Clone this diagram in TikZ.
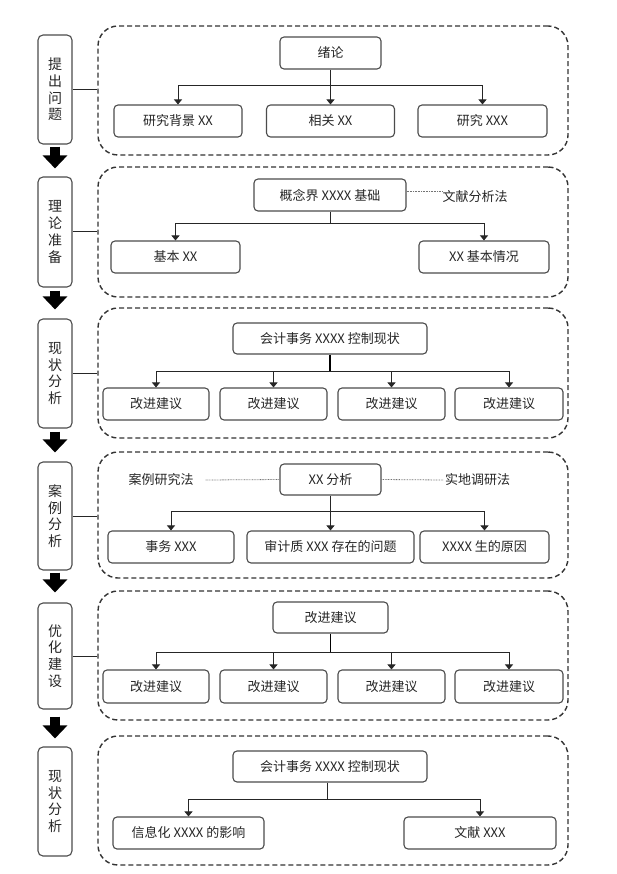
\documentclass[tikz,border=0pt]{standalone}
\usepackage{fontspec}
\setmainfont{Noto Sans CJK SC}
\usetikzlibrary{arrows.meta}
\begin{document}
\begin{tikzpicture}[x=1pt,y=-1pt,
  box/.style={draw=black!70, line width=1.1pt, rounded corners=4pt, fill=white, inner sep=0pt, font=\fontsize{13}{14}\selectfont, text=black!85},
  grp/.style={draw=black!80, line width=1.4pt, dash pattern=on 5pt off 3pt, rounded corners=20pt, inner sep=0pt},
  side/.style={draw=black!70, line width=1.1pt, rounded corners=5pt, minimum width=34pt, inner sep=0pt, align=center, font=\fontsize{14}{16.7}\selectfont, text=black!85},
  conn/.style={draw=black!85, line width=1pt, -{Triangle[length=5pt,width=8pt]}},
  plainln/.style={draw=black!85, line width=1pt},
  thickln/.style={draw=black, line width=1.8pt},
  dotln/.style={draw=black!55, line width=0.8pt, dash pattern=on 0.8pt off 0.8pt},
  bigarr/.style={draw=black, line width=10pt, -{Triangle[length=13pt,width=24pt]}},
  lbl/.style={inner sep=0pt, font=\fontsize{13}{14}\selectfont, text=black!85}
]
\useasboundingbox (0,0) rectangle (616,874);
\fill[white] (0,0) rectangle (616,874);

% dashed groups
\node[grp, minimum width=470pt, minimum height=129pt] (G1) at (333,90.5) {};
\node[grp, minimum width=470pt, minimum height=130pt] (G2) at (333,232) {};
\node[grp, minimum width=470pt, minimum height=130pt] (G3) at (333,373) {};
\node[grp, minimum width=470pt, minimum height=126pt] (G4) at (333,515) {};
\node[grp, minimum width=470pt, minimum height=129pt] (G5) at (333,655.5) {};
\node[grp, minimum width=470pt, minimum height=129pt] (G6) at (333,800.5) {};

% side boxes
\node[side, minimum height=109pt] (L1) at (55,89.5) {提\\出\\问\\题};
\node[side, minimum height=110pt] (L2) at (55,232) {理\\论\\准\\备};
\node[side, minimum height=109pt] (L3) at (55,373.5) {现\\状\\分\\析};
\node[side, minimum height=108pt] (L4) at (55,516) {案\\例\\分\\析};
\node[side, minimum height=106pt] (L5) at (55,656) {优\\化\\建\\设};
\node[side, minimum height=109pt] (L6) at (55,801.5) {现\\状\\分\\析};

% side to group connectors
\draw[plainln] (L1.east) -- (L1.east -| G1.west);
\draw[plainln] (L2.east) -- (L2.east -| G2.west);
\draw[plainln] (L3.east) -- (L3.east -| G3.west);
\draw[plainln] (L4.east) -- (L4.east -| G4.west);
\draw[plainln] (L5.east) -- (L5.east -| G5.west);

% big arrows
\draw[bigarr] ([yshift=-2pt]L1.south) -- ([yshift=8pt]L2.north);
\draw[bigarr] ([yshift=-3pt]L2.south) -- ([yshift=9pt]L3.north);
\draw[bigarr] ([yshift=-3pt]L3.south) -- ([yshift=9pt]L4.north);
\draw[bigarr] ([yshift=-2pt]L4.south) -- ([yshift=10pt]L5.north);
\draw[bigarr] ([yshift=-7pt]L5.south) -- ([yshift=8pt]L6.north);

% group 1
\node[box, minimum width=101pt, minimum height=32pt] (T1) at (330.5,53) {绪论};
\node[box, minimum width=128pt, minimum height=32pt] (A1) at (178,121) {研究背景 XX};
\node[box, minimum width=128pt, minimum height=32pt] (A2) at (330.5,121) {相关 XX};
\node[box, minimum width=129pt, minimum height=32pt] (A3) at (482.5,121) {研究 XXX};
\coordinate (b1) at (330.5,86);
\draw[conn] (T1.south) -- (A2.north);
\draw[conn] (b1) -| (A1.north);
\draw[conn] (b1) -| (A3.north);

% group 2
\node[box, minimum width=152pt, minimum height=32pt] (T2) at (330,195) {概念界 XXXX 基础};
\node[lbl] (W1) at (475,196.5) {文献分析法};
\node[box, minimum width=129pt, minimum height=32pt] (B1) at (175.5,257) {基本 XX};
\node[box, minimum width=130pt, minimum height=32pt] (B2) at (484,257) {XX 基本情况};
\coordinate (b2) at (330,224);
\draw[dotln] ([yshift=4pt]T2.east) -- ([yshift=4pt]T2.east -| W1.west);
\draw[plainln] (T2.south) -- (b2);
\draw[conn] (b2) -| (B1.north);
\draw[conn] (b2) -| (B2.north);

% group 3
\node[box, minimum width=194pt, minimum height=31pt] (T3) at (330,338.5) {会计事务 XXXX 控制现状};
\node[box, minimum width=106pt, minimum height=32pt] (C1) at (156,404) {改进建议};
\node[box, minimum width=107pt, minimum height=32pt] (C2) at (273.5,404) {改进建议};
\node[box, minimum width=107pt, minimum height=32pt] (C3) at (391.5,404) {改进建议};
\node[box, minimum width=108pt, minimum height=32pt] (C4) at (509,404) {改进建议};
\coordinate (b3) at (330,371);
\draw[thickln] (T3.south) -- (b3);
\draw[conn] (b3) -| (C1.north);
\draw[conn] (b3) -| (C2.north);
\draw[conn] (b3) -| (C3.north);
\draw[conn] (b3) -| (C4.north);

% group 4
\node[box, minimum width=101pt, minimum height=31pt] (T4) at (330.5,479.5) {XX 分析};
\node[lbl] (W2) at (161,480) {案例研究法};
\node[lbl] (W3) at (477.5,480) {实地调研法};
\node[box, minimum width=126pt, minimum height=32pt] (D1) at (171,547) {事务 XXX};
\node[box, minimum width=167pt, minimum height=32pt] (D2) at (330.5,547) {审计质 XXX 存在的问题};
\node[box, minimum width=129pt, minimum height=32pt] (D3) at (484.5,547) {XXXX 生的原因};
\coordinate (b4) at (330.5,511);
\draw[dotln] ([xshift=12pt]W2.east) -- (T4.west);
\draw[dotln] (T4.east) -- ([xshift=-1pt]W3.west);
\draw[conn] (T4.south) -- (D2.north);
\draw[conn] (b4) -| (D1.north);
\draw[conn] (b4) -| (D3.north);

% group 5
\node[box, minimum width=115pt, minimum height=31pt] (T5) at (330.5,617.5) {改进建议};
\node[box, minimum width=106pt, minimum height=33pt] (E1) at (156,686.5) {改进建议};
\node[box, minimum width=107pt, minimum height=33pt] (E2) at (273.5,686.5) {改进建议};
\node[box, minimum width=107pt, minimum height=33pt] (E3) at (391.5,686.5) {改进建议};
\node[box, minimum width=108pt, minimum height=33pt] (E4) at (509,686.5) {改进建议};
\coordinate (b5) at (330.5,652);
\draw[thickln] (T5.south) -- (b5);
\draw[conn] (b5) -| (E1.north);
\draw[conn] (b5) -| (E2.north);
\draw[conn] (b5) -| (E3.north);
\draw[conn] (b5) -| (E4.north);

% group 6
\node[box, minimum width=194pt, minimum height=31pt] (T6) at (330,766.5) {会计事务 XXXX 控制现状};
\node[box, minimum width=151pt, minimum height=32pt] (F1) at (188.5,833) {信息化 XXXX 的影响};
\node[box, minimum width=152pt, minimum height=32pt] (F2) at (480,833) {文献 XXX};
\coordinate (b6) at (327,799);
\draw[plainln] (T6.south -| b6) -- (b6);
\draw[conn] (b6) -| (F1.north);
\draw[conn] (b6) -| (F2.north);
\end{tikzpicture}
\end{document}
